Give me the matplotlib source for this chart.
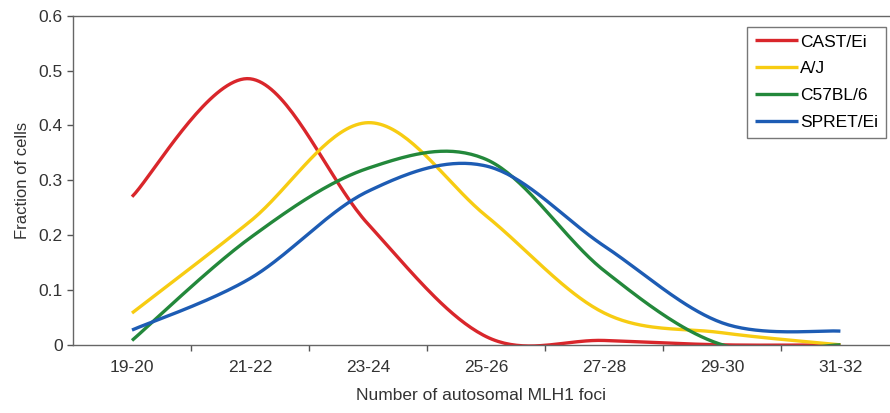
import numpy as np
import matplotlib
matplotlib.use("Agg")
import matplotlib.pyplot as plt

plt.rcParams['font.family'] = ['Liberation Sans', 'DejaVu Sans']

categories = ["19-20", "21-22", "23-24", "25-26", "27-28", "29-30", "31-32"]
cast_ei = [0.27, 0.485, 0.22, 0.015, 0.008, 0.0, 0.0]
a_j = [0.058, 0.225, 0.405, 0.235, 0.058, 0.022, 0.0]
c57bl6 = [0.008, 0.195, 0.322, 0.338, 0.135, 0.0, 0.0]
spret_ei = [0.027, 0.121, 0.28, 0.326, 0.18, 0.04, 0.025]

series = [("CAST/Ei", cast_ei, "#d9262b"),
          ("A/J", a_j, "#f7cc12"),
          ("C57BL/6", c57bl6, "#23883b"),
          ("SPRET/Ei", spret_ei, "#1d5cb4")]


def smooth(xs, ys, n=40):
    # Excel-style smoothed line: cubic Bezier segments through each point
    xs = np.asarray(xs, float)
    ys = np.asarray(ys, float)
    px = np.concatenate([[xs[0]], xs, [xs[-1]]])
    py = np.concatenate([[ys[0]], ys, [ys[-1]]])
    t = np.linspace(0, 1, n)[:, None]
    out = []
    for i in range(len(xs) - 1):
        p0 = np.array([px[i + 1], py[i + 1]])
        p3 = np.array([px[i + 2], py[i + 2]])
        c1 = p0 + (p3 - np.array([px[i], py[i]])) / 6
        c2 = p3 - (np.array([px[i + 3], py[i + 3]]) - p0) / 6
        seg = ((1 - t) ** 3) * p0 + 3 * ((1 - t) ** 2) * t * c1 + 3 * (1 - t) * t ** 2 * c2 + t ** 3 * p3
        out.append(seg)
    pts = np.vstack(out)
    return pts[:, 0], pts[:, 1]


fig = plt.figure(figsize=(8.9, 4.13), dpi=100)
ax = fig.add_axes([0.082, 0.165, 0.918, 0.797])

x = np.arange(len(categories))
for name, vals, color in series:
    sx, sy = smooth(x, vals)
    ax.plot(sx, sy, color=color, lw=2.4, label=name, solid_capstyle='butt')

ax.set_xlim(-0.5, 6.42)
ax.set_ylim(0, 0.6)
ax.set_yticks(np.arange(0, 0.61, 0.1))
ax.set_yticklabels(["0", "0.1", "0.2", "0.3", "0.4", "0.5", "0.6"])
ax.set_xticks(x)
ax.set_xticklabels(categories)
ax.set_xticks(np.arange(0.5, 6, 1), minor=True)
ax.tick_params(axis='x', which='major', length=0, pad=11, labelsize=12.5, colors='#333333')
ax.tick_params(axis='x', which='minor', length=4, width=1, color='#555555', direction='out')
ax.tick_params(axis='y', length=4, width=1, color='#555555', labelsize=12.5, labelcolor='#333333')

for s in ['left', 'bottom', 'top']:
    ax.spines[s].set_color('#666666')
    ax.spines[s].set_linewidth(1.0)
ax.spines['right'].set_visible(False)

ax.set_xlabel("Number of autosomal MLH1 foci", fontsize=12.5, color='#333333', labelpad=9)
ax.set_ylabel("Fraction of cells", fontsize=12, color='#333333', labelpad=6)

leg = ax.legend(loc='upper right', bbox_to_anchor=(0.995, 0.967), fontsize=12.5,
                frameon=True, fancybox=False, handlelength=2.5, handletextpad=0.1,
                labelspacing=0.68, borderpad=0.45, borderaxespad=0)
leg.get_frame().set_edgecolor('#555555')
leg.get_frame().set_linewidth(1.0)

fig.savefig("out.png", dpi=100)
